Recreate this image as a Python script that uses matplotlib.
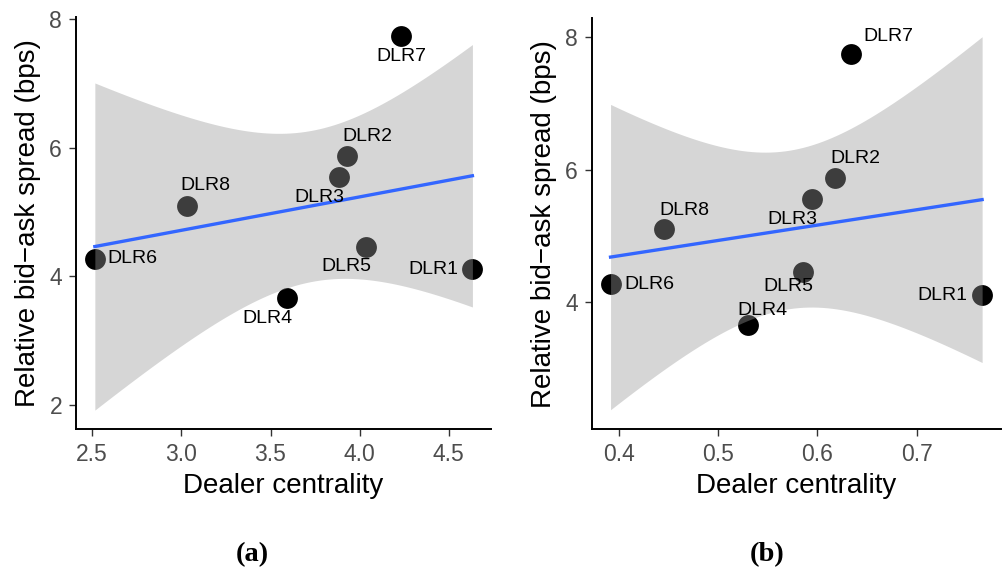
import numpy as np
import matplotlib
matplotlib.use("Agg")
import matplotlib.pyplot as plt

# dealer labels and values
dealers = ["DLR1", "DLR2", "DLR3", "DLR4", "DLR5", "DLR6", "DLR7", "DLR8"]
spread = [4.11, 5.87, 5.55, 3.66, 4.46, 4.27, 7.74, 5.10]
centrality_a = [4.632, 3.929, 3.885, 3.593, 4.038, 2.515, 4.234, 3.029]
centrality_b = [0.766, 0.618, 0.595, 0.530, 0.586, 0.392, 0.634, 0.446]

xticks_a = [2.5, 3.0, 3.5, 4.0, 4.5]
xticks_b = [0.4, 0.5, 0.6, 0.7]
yticks_a = [2, 4, 6, 8]
yticks_b = [4, 6, 8]

# label offsets in pixels (dx, dy, ha)
offs_a = {"DLR1": (-14, 0, "right"), "DLR2": (20, 19, "center"), "DLR3": (-20, -21, "center"),
          "DLR4": (-20, -20, "center"), "DLR5": (-20, -20, "center"), "DLR6": (13, 0, "left"),
          "DLR7": (0, -21, "center"), "DLR8": (19, 20, "center")}
offs_b = {"DLR1": (-15, 0, "right"), "DLR2": (20, 20, "center"), "DLR3": (-20, -20, "center"),
          "DLR4": (15, 14, "center"), "DLR5": (-15, -15, "center"), "DLR6": (14, 0, "left"),
          "DLR7": (12, 17, "left"), "DLR8": (20, 19, "center")}

plt.rcParams['font.family'] = ['Liberation Sans', 'DejaVu Sans']

T975 = 2.446912  # t quantile, df = 6


def lm_band(x, y):
    x = np.asarray(x)
    y = np.asarray(y)
    n = len(x)
    b, a = np.polyfit(x, y, 1)
    resid = y - (a + b * x)
    s = np.sqrt(np.sum(resid ** 2) / (n - 2))
    xs = np.linspace(x.min(), x.max(), 80)
    fit = a + b * xs
    se = s * np.sqrt(1 / n + (xs - x.mean()) ** 2 / np.sum((x - x.mean()) ** 2))
    return xs, fit, fit - T975 * se, fit + T975 * se


def panel(ax, x, y, offs, xticks, yticks, xlim, ylim):
    ax.scatter(x, y, s=225, color="black", zorder=2, linewidths=0)
    xs, fit, lo, hi = lm_band(x, y)
    ax.fill_between(xs, lo, hi, color="#999999", alpha=0.4, linewidth=0, zorder=3)
    ax.plot(xs, fit, color="#3366FF", linewidth=2.4, zorder=4)
    for name, xi, yi in zip(dealers, x, y):
        dx, dy, ha = offs[name]
        ax.annotate(name, (xi, yi), xytext=(dx, dy), textcoords="offset pixels",
                    ha=ha, va="center", fontsize=14, color="black", zorder=5)
    ax.set_xlim(*xlim)
    ax.set_ylim(*ylim)
    ax.set_xticks(xticks)
    ax.set_yticks(yticks)
    ax.spines["top"].set_visible(False)
    ax.spines["right"].set_visible(False)
    for sp in ("left", "bottom"):
        ax.spines[sp].set_linewidth(1.4)
    ax.tick_params(labelsize=16.5, labelcolor="#4D4D4D", color="#333333", length=5, width=1, pad=5)
    ax.set_xlabel("Dealer centrality", fontsize=20, labelpad=5)
    ax.set_ylabel("Relative bid\u2212ask spread (bps)", fontsize=20, labelpad=6)


fig = plt.figure(figsize=(10.02, 5.74), dpi=100)
ax1 = fig.add_axes([0.0758, 0.2526, 0.414, 0.7178])
ax2 = fig.add_axes([0.5905, 0.2526, 0.4085, 0.7155])

panel(ax1, centrality_a, spread, offs_a, xticks_a, yticks_a, (2.409, 4.735), (1.627, 8.03))
panel(ax2, centrality_b, spread, offs_b, xticks_b, yticks_b, (0.373, 0.785), (2.092, 8.277))
ax2.set_xticklabels(["0.4", "0.5", "0.6", "0.7"])

fig.text(0.2515, 1 - 555 / 574, "(a)", ha="center", va="center", fontsize=20.5,
         fontweight="bold", family="Liberation Serif")
fig.text(0.7655, 1 - 555 / 574, "(b)", ha="center", va="center", fontsize=20.5,
         fontweight="bold", family="Liberation Serif")

fig.savefig("out.png", dpi=100)
